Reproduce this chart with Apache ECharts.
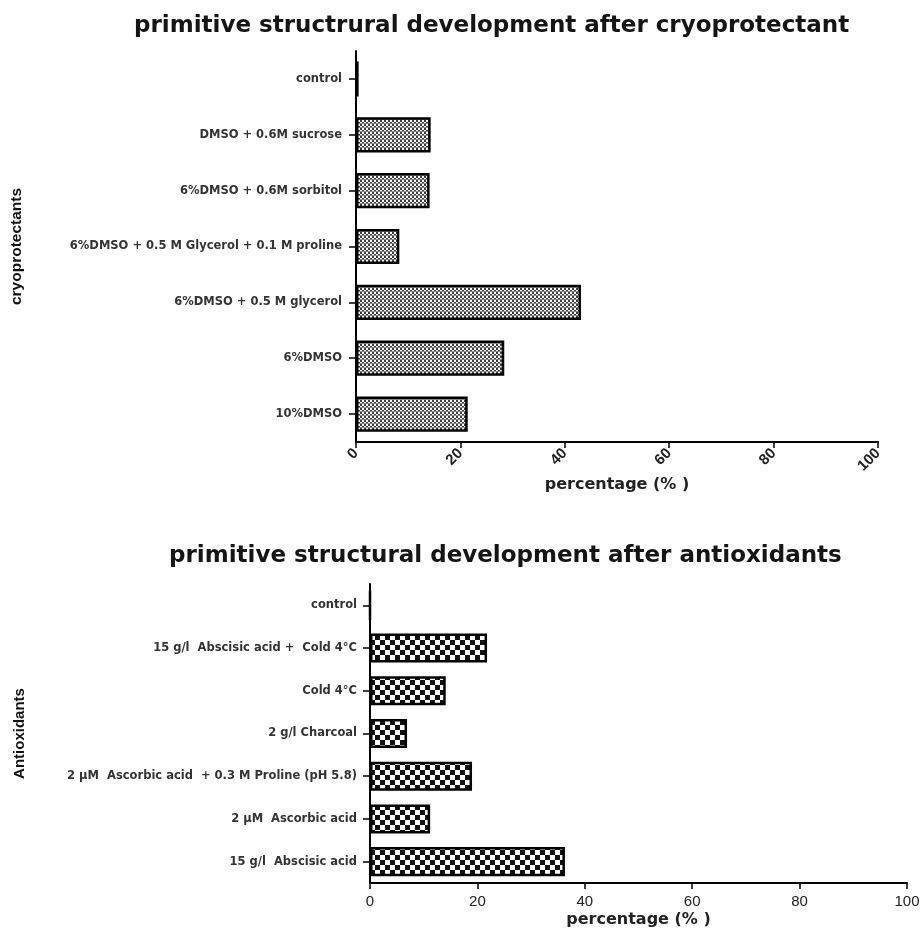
<!DOCTYPE html>
<html>
<head>
<meta charset="utf-8">
<script src="https://cdn.jsdelivr.net/npm/echarts@6/dist/echarts.min.js"></script>
<style>
  html, body { margin: 0; padding: 0; background: #fff; }
  #chart { width: 924px; height: 930px; }
</style>
</head>
<body>
<div id="chart"></div>
<script>
// Treatments listed top to bottom as they appear on each panel
const cryoCategories = [
  'control',
  'DMSO + 0.6M sucrose',
  '6%DMSO + 0.6M sorbitol',
  '6%DMSO + 0.5 M Glycerol + 0.1 M proline',
  '6%DMSO + 0.5 M glycerol',
  '6%DMSO',
  '10%DMSO'
];
const cryoValues = [0.5, 14.3, 14.1, 8.3, 43.1, 28.4, 21.4];

const antiCategories = [
  'control',
  '15 g/l  Abscisic acid +  Cold 4°C',
  'Cold 4°C',
  '2 g/l Charcoal',
  '2 µM  Ascorbic acid  + 0.3 M Proline (pH 5.8)',
  '2 µM  Ascorbic acid',
  '15 g/l  Abscisic acid'
];
const antiValues = [0, 21.8, 14.1, 6.9, 19.0, 11.2, 36.3];

const percentTicks = [0, 20, 40, 60, 80, 100];

const titleCryo = 'primitive structrural development after cryoprotectant';
const titleAnti = 'primitive structural development after antioxidants';

// Fine dotted fill for the cryoprotectant bars
function finePattern() {
  const c = document.createElement('canvas');
  c.width = 4; c.height = 4;
  const g = c.getContext('2d');
  g.fillStyle = '#ffffff'; g.fillRect(0, 0, 4, 4);
  g.fillStyle = '#3a3a3a';
  g.fillRect(0, 0, 2, 2);
  g.fillRect(2, 2, 2, 2);
  g.fillStyle = '#8a8a8a';
  g.fillRect(0, 3, 4, 1);
  return c;
}
// Coarse checkerboard fill for the antioxidant bars
function checkerPattern() {
  const c = document.createElement('canvas');
  c.width = 10; c.height = 10;
  const g = c.getContext('2d');
  g.fillStyle = '#ffffff'; g.fillRect(0, 0, 10, 10);
  g.fillStyle = '#111111';
  g.fillRect(0, 0, 5, 5);
  g.fillRect(5, 5, 5, 5);
  return c;
}

const chart = echarts.init(document.getElementById('chart'), null, { renderer: 'canvas' });

const axisLine = { show: true, lineStyle: { color: '#000', width: 2 } };
const tickStyle = { show: true, length: 7, lineStyle: { color: '#000', width: 1.5 } };
const titleFont = { fontFamily: 'DejaVu Sans', fontWeight: 'bold', fontSize: 23, color: '#151515' };
const nameFont = { fontFamily: 'DejaVu Sans', fontWeight: 'bold', fontSize: 16, color: '#222' };
const catFont = { fontFamily: 'DejaVu Sans', fontWeight: 'bold', fontSize: 11.5, color: '#333' };

chart.setOption({
  animation: false,
  backgroundColor: '#ffffff',
  title: [
    { text: titleCryo, left: 129, top: 10, textStyle: titleFont },
    { text: titleAnti, left: 164, top: 540, textStyle: titleFont }
  ],
  grid: [
    { left: 356, width: 522, top: 51, height: 391, outerBoundsMode: 'none', containLabel: false },
    { left: 370, width: 537, top: 584, height: 299, outerBoundsMode: 'none', containLabel: false }
  ],
  xAxis: [
    {
      gridIndex: 0, type: 'value', min: 0, max: 100, interval: 20,
      axisLine, axisTick: { ...tickStyle, length: 6 }, splitLine: { show: false },
      axisLabel: {
        rotate: 45, margin: 9,
        fontFamily: 'Liberation Sans', fontWeight: 'bold', fontSize: 15, color: '#222',
        formatter: v => percentTicks.includes(v) ? String(v) : ''
      },
      name: 'percentage (% )', nameLocation: 'middle', nameGap: 29, nameTextStyle: nameFont
    },
    {
      gridIndex: 1, type: 'value', min: 0, max: 100, interval: 20,
      axisLine, axisTick: { ...tickStyle, length: 6 }, splitLine: { show: false },
      axisLabel: {
        margin: 11,
        fontFamily: 'Liberation Sans', fontSize: 15, color: '#222',
        formatter: v => percentTicks.includes(v) ? String(v) : ''
      },
      name: 'percentage (% )', nameLocation: 'middle', nameGap: 29, nameTextStyle: nameFont
    }
  ],
  yAxis: [
    {
      gridIndex: 0, type: 'category', data: cryoCategories, inverse: true,
      axisLine, axisTick: { ...tickStyle, alignWithLabel: true },
      axisLabel: { margin: 14, ...catFont },
      name: 'cryoprotectants', nameLocation: 'middle', nameGap: 331, nameRotate: 90,
      nameTextStyle: { fontFamily: 'Liberation Sans', fontWeight: 'bold', fontSize: 15.5, color: '#111' }
    },
    {
      gridIndex: 1, type: 'category', data: antiCategories, inverse: true,
      axisLine, axisTick: { ...tickStyle, alignWithLabel: true },
      axisLabel: { margin: 13, ...catFont },
      name: 'Antioxidants', nameLocation: 'middle', nameGap: 343, nameRotate: 90,
      nameTextStyle: { fontFamily: 'Liberation Sans', fontWeight: 'bold', fontSize: 15, color: '#111' }
    }
  ],
  series: [
    {
      type: 'bar', xAxisIndex: 0, yAxisIndex: 0, data: cryoValues, barWidth: '63%',
      itemStyle: { color: { image: finePattern(), repeat: 'repeat' }, borderColor: '#000', borderWidth: 2.5 }
    },
    {
      type: 'bar', xAxisIndex: 1, yAxisIndex: 1, data: antiValues, barWidth: '68%',
      itemStyle: { color: { image: checkerPattern(), repeat: 'repeat' }, borderColor: '#000', borderWidth: 2.5 }
    }
  ]
});
</script>
</body>
</html>
